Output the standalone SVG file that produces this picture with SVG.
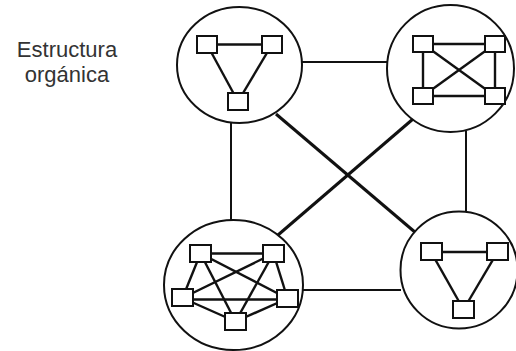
<svg xmlns="http://www.w3.org/2000/svg" width="516" height="351" viewBox="0 0 516 351">
<style>
.ring{fill:#fff;stroke:#111;stroke-width:2}
.edge{stroke:#111;stroke-width:2.4;fill:none}
.box{fill:#fff;stroke:#111;stroke-width:2}
.conn{stroke:#111;stroke-width:2;fill:none}
.diag{stroke:#111;stroke-width:3;fill:none}
.lbl{font-family:"Liberation Sans",Arial,sans-serif;font-size:22px;fill:#333;text-anchor:middle}
</style>
<rect width="516" height="351" fill="#fff"/>
<text class="lbl" x="67" y="57">Estructura</text>
<text class="lbl" x="67" y="82">orgánica</text>
<g id="connectors">
<line class="conn" x1="302" y1="62" x2="387" y2="62"/>
<line class="conn" x1="231" y1="122" x2="231" y2="221"/>
<line class="conn" x1="466" y1="131" x2="466" y2="212"/>
<line class="conn" x1="303" y1="290" x2="401" y2="290"/>
<line class="diag" x1="276" y1="114" x2="416" y2="233"/>
<line class="diag" x1="413" y1="119" x2="278" y2="235"/>
</g>
<g id="node-top-left">
<ellipse class="ring" cx="239.5" cy="65" rx="62.5" ry="58"/>
<line class="edge" x1="207" y1="44.5" x2="272" y2="44.5"/>
<line class="edge" x1="207" y1="44.5" x2="238" y2="101.5"/>
<line class="edge" x1="272" y1="44.5" x2="238" y2="101.5"/>
<rect class="box" x="197" y="36" width="20" height="17"/>
<rect class="box" x="262" y="36" width="20" height="17"/>
<rect class="box" x="228" y="93" width="20" height="17"/>
</g>
<g id="node-top-right">
<circle class="ring" cx="450.5" cy="68.5" r="63.5"/>
<line class="edge" x1="423" y1="44" x2="495" y2="44"/>
<line class="edge" x1="423" y1="96" x2="495" y2="96"/>
<line class="edge" x1="423" y1="44" x2="423" y2="96"/>
<line class="edge" x1="495" y1="44" x2="495" y2="96"/>
<line class="edge" x1="423" y1="44" x2="495" y2="96"/>
<line class="edge" x1="495" y1="44" x2="423" y2="96"/>
<rect class="box" x="413" y="36" width="20" height="16"/>
<rect class="box" x="485" y="36" width="20" height="16"/>
<rect class="box" x="413" y="88" width="20" height="16"/>
<rect class="box" x="485" y="88" width="20" height="16"/>
</g>
<g id="node-bottom-left">
<ellipse class="ring" cx="233.5" cy="285" rx="69.5" ry="65"/>
<line class="edge" x1="200.5" y1="253.5" x2="273.5" y2="253.5"/>
<line class="edge" x1="200.5" y1="253.5" x2="182.5" y2="298"/>
<line class="edge" x1="200.5" y1="253.5" x2="235.5" y2="321.5"/>
<line class="edge" x1="200.5" y1="253.5" x2="287.5" y2="298.5"/>
<line class="edge" x1="273.5" y1="253.5" x2="182.5" y2="298"/>
<line class="edge" x1="273.5" y1="253.5" x2="235.5" y2="321.5"/>
<line class="edge" x1="273.5" y1="253.5" x2="287.5" y2="298.5"/>
<line class="edge" x1="182.5" y1="299.5" x2="287.5" y2="299.5"/>
<line class="edge" x1="182.5" y1="298" x2="235.5" y2="321.5"/>
<line class="edge" x1="287.5" y1="298.5" x2="235.5" y2="321.5"/>
<rect class="box" x="190" y="245" width="21" height="17"/>
<rect class="box" x="263" y="245" width="21" height="17"/>
<rect class="box" x="172" y="289" width="21" height="17"/>
<rect class="box" x="277" y="290" width="21" height="17"/>
<rect class="box" x="225" y="313" width="21" height="17"/>
</g>
<g id="node-bottom-right">
<circle class="ring" cx="459" cy="270" r="58.5"/>
<line class="edge" x1="431" y1="252" x2="497.5" y2="252"/>
<line class="edge" x1="431" y1="252" x2="463.5" y2="309.5"/>
<line class="edge" x1="497.5" y1="252" x2="463.5" y2="309.5"/>
<rect class="box" x="421" y="243" width="21" height="17"/>
<rect class="box" x="487" y="243" width="21" height="17"/>
<rect class="box" x="453" y="301" width="21" height="17"/>
</g>
</svg>
